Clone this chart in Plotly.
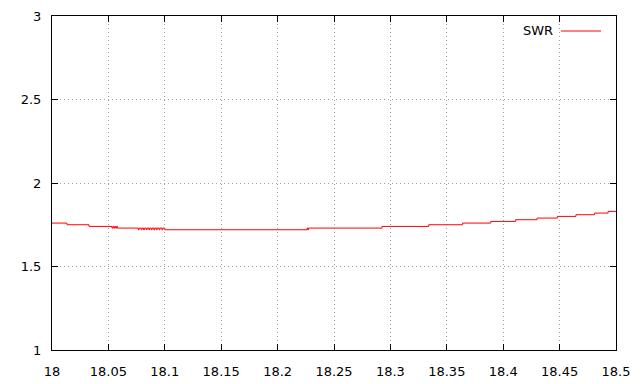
import plotly.graph_objects as go

# Frequency (MHz) breakpoints and SWR levels (step data)
freq = [18.0, 18.0133, 18.0328,
        18.0532, 18.0540, 18.0548, 18.0556, 18.0564, 18.0572, 18.0580,
        18.0765, 18.0772, 18.0790, 18.0797, 18.0812, 18.0819, 18.0835, 18.0842,
        18.0858, 18.0865, 18.0880, 18.0887, 18.0903, 18.0910, 18.0925, 18.0932,
        18.0950, 18.0957, 18.0975, 18.0982, 18.1000,
        18.2262, 18.2268, 18.2274, 18.2280,
        18.2926, 18.3340, 18.3640, 18.3890, 18.4110, 18.4300, 18.4480,
        18.4645, 18.4810, 18.4930, 18.5]
swr = [1.76, 1.75, 1.74,
       1.73, 1.74, 1.73, 1.74, 1.73, 1.74, 1.73,
       1.72, 1.73, 1.72, 1.73, 1.72, 1.73, 1.72, 1.73,
       1.72, 1.73, 1.72, 1.73, 1.72, 1.73, 1.72, 1.73,
       1.72, 1.73, 1.72, 1.73, 1.72,
       1.73, 1.72, 1.73, 1.73,
       1.74, 1.75, 1.76, 1.77, 1.78, 1.79, 1.80,
       1.81, 1.82, 1.83, 1.83]

x_ticks = [18, 18.05, 18.1, 18.15, 18.2, 18.25, 18.3, 18.35, 18.4, 18.45, 18.5]
x_tick_labels = ["18", "18.05", "18.1", "18.15", "18.2", "18.25", "18.3", "18.35", "18.4", "18.45", "18.5"]
y_ticks = [1, 1.5, 2, 2.5, 3]
y_tick_labels = ["1", "1.5", "2", "2.5", "3"]
series_name = "SWR"

fig = go.Figure()
fig.add_trace(go.Scatter(x=freq, y=swr, mode="lines", line=dict(color="#ff0000", width=1, shape="hv"),
                         name=series_name, showlegend=False))

axis_common = dict(showgrid=True, gridcolor="#a0a0a0", griddash="1px,3px", gridwidth=1,
                   ticks="inside", ticklen=6, tickcolor="black", tickwidth=1,
                   showline=True, linecolor="black", linewidth=1, mirror="allticks",
                   zeroline=False, automargin=False,
                   tickfont=dict(family="DejaVu Sans", size=13, color="black"))

fig.update_xaxes(range=[18, 18.5], tickvals=x_ticks, ticktext=x_tick_labels,
                 ticklabelstandoff=9, **axis_common)
fig.update_yaxes(range=[1, 3], tickvals=y_ticks, ticktext=y_tick_labels,
                 ticklabelstandoff=7, **axis_common)

# gnuplot-style key: text to the left of the line sample
key_y = 1 - (31 - 16) / 334
fig.add_annotation(x=(555 - 52) / 564, y=key_y, xref="paper", yref="paper",
                   text=series_name, showarrow=False, xanchor="right", yanchor="middle",
                   font=dict(family="DejaVu Sans", size=13, color="black"))
fig.add_shape(type="line", xref="paper", yref="paper",
              x0=(561 - 52) / 564, x1=(601 - 52) / 564,
              y0=key_y, y1=key_y,
              line=dict(color="#ff0000", width=1))

fig.update_layout(width=640, height=384, margin=dict(l=52, r=24, t=16, b=34),
                  plot_bgcolor="white", paper_bgcolor="white")

fig.write_html("out.html")
